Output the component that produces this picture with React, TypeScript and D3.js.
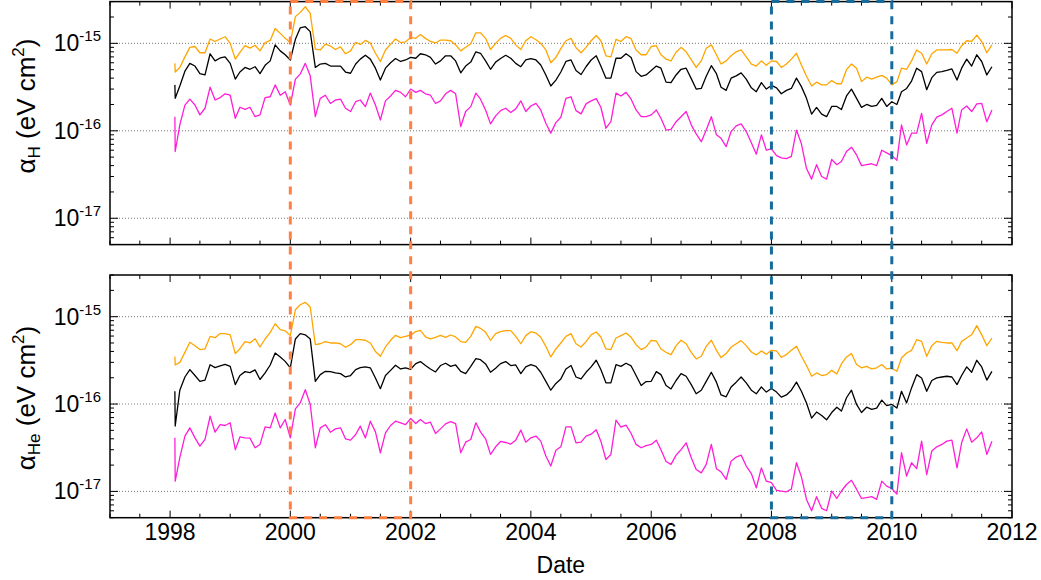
import React, { useRef, useEffect } from "react";
import * as d3 from "d3";

// sample dates (first point is the start-up spike, then roughly monthly)
const dates = [
  "1998-01-30",
  "1998-02", "1998-03", "1998-04", "1998-05", "1998-06", "1998-07", "1998-08", "1998-09", "1998-10", "1998-11", "1998-12",
  "1999-01", "1999-02", "1999-03", "1999-04", "1999-05", "1999-06", "1999-07", "1999-08", "1999-09", "1999-10", "1999-11", "1999-12",
  "2000-01", "2000-02", "2000-03", "2000-04", "2000-05", "2000-06", "2000-07", "2000-08", "2000-09", "2000-10", "2000-11", "2000-12",
  "2001-01", "2001-02", "2001-03", "2001-04", "2001-05", "2001-06", "2001-07", "2001-08", "2001-09", "2001-10", "2001-11", "2001-12",
  "2002-01", "2002-02", "2002-03", "2002-04", "2002-05", "2002-06", "2002-07", "2002-08", "2002-09", "2002-10", "2002-11", "2002-12",
  "2003-01", "2003-02", "2003-03", "2003-04", "2003-05", "2003-06", "2003-07", "2003-08", "2003-09", "2003-10", "2003-11", "2003-12",
  "2004-01", "2004-02", "2004-03", "2004-04", "2004-05", "2004-06", "2004-07", "2004-08", "2004-09", "2004-10", "2004-11", "2004-12",
  "2005-01", "2005-02", "2005-03", "2005-04", "2005-05", "2005-06", "2005-07", "2005-08", "2005-09", "2005-10", "2005-11", "2005-12",
  "2006-01", "2006-02", "2006-03", "2006-04", "2006-05", "2006-06", "2006-07", "2006-08", "2006-09", "2006-10", "2006-11", "2006-12",
  "2007-01", "2007-02", "2007-03", "2007-04", "2007-05", "2007-06", "2007-07", "2007-08", "2007-09", "2007-10", "2007-11", "2007-12",
  "2008-01", "2008-02", "2008-03", "2008-04", "2008-05", "2008-06", "2008-07", "2008-08", "2008-09", "2008-10", "2008-11", "2008-12",
  "2009-01", "2009-02", "2009-03", "2009-04", "2009-05", "2009-06", "2009-07", "2009-08", "2009-09", "2009-10", "2009-11", "2009-12",
  "2010-01", "2010-02", "2010-03", "2010-04", "2010-05", "2010-06", "2010-07", "2010-08", "2010-09", "2010-10", "2010-11", "2010-12",
  "2011-01", "2011-02", "2011-03", "2011-04", "2011-05", "2011-06", "2011-07", "2011-08", "2011-09",
];

// all values in units of 1e-16 eV cm^2
const hOrange = [
  5.9, 4.7,
  5.3, 7.0, 9.0, 9.2, 7.8, 7.8, 11.2, 10.5, 11.2, 11.9,
  10.0, 6.6, 7.9, 9.4, 8.8, 9.5, 8.2, 10.2, 10.8, 14.8,
  13.0, 11.4, 10.2, 20.2, 22.6, 26.2, 22.0, 8.6, 8.4, 9.8,
  9.3, 8.5, 9.1, 7.6, 8.2, 10.3, 9.7, 10.8, 10.1, 7.7,
  6.2, 8.4, 9.8, 11.2, 10.2, 10.4, 11.7, 11.4, 12.6, 11.4,
  10.5, 10.1, 10.9, 10.9, 10.7, 9.6, 8.2, 9.0, 9.9, 13.2,
  13.2, 11.4, 8.5, 10.0, 11.4, 12.3, 11.4, 9.6, 8.5, 10.7,
  11.9, 11.0, 10.0, 8.4, 6.0, 6.9, 8.7, 10.7, 11.4, 8.9,
  7.8, 9.0, 10.7, 12.3, 10.7, 7.2, 7.0, 11.1, 10.5, 11.9,
  11.3, 8.4, 7.4, 7.4, 9.2, 9.4, 7.4, 6.6, 6.3, 7.9,
  9.0, 8.0, 6.5, 5.3, 6.3, 8.8, 9.6, 7.4, 5.8, 6.3,
  7.2, 8.0, 8.4, 7.0, 5.8, 5.5, 6.3, 5.6, 6.3, 6.2,
  5.3, 5.8, 6.6, 7.7, 5.65, 4.2, 3.25, 3.6, 3.35, 3.35,
  3.75, 3.45, 3.45, 5.0, 5.8, 5.2, 3.65, 4.1, 3.9, 4.1,
  4.3, 4.0, 3.35, 3.65, 5.2, 5.05, 6.3, 8.4, 7.7, 5.8,
  7.6, 8.4, 8.4, 8.4, 8.5, 7.7, 9.4, 10.7, 10.5, 12.4,
  10.5, 7.8, 9.6,
];

const hBlack = [
  3.35, 2.35,
  3.25, 4.8, 5.9, 5.5, 4.5, 4.35, 7.6, 6.3, 6.8, 7.0,
  5.9, 3.9, 4.7, 5.3, 5.05, 5.4, 4.5, 5.6, 6.3, 9.6,
  8.2, 7.4, 6.45, 11.1, 15.0, 15.5, 13.6, 5.3, 5.8, 5.9,
  5.5, 5.5, 5.5, 4.7, 4.55, 5.8, 6.6, 7.3, 6.6, 5.2,
  3.8, 5.2, 6.0, 6.7, 6.2, 6.45, 6.9, 6.75, 7.6, 7.4,
  6.9, 5.8, 6.3, 7.2, 7.2, 6.3, 4.6, 5.5, 6.1, 8.0,
  7.7, 6.3, 5.05, 6.1, 6.7, 7.3, 6.75, 5.9, 5.4, 6.45,
  6.7, 6.45, 5.65, 4.35, 3.25, 3.8, 4.7, 6.2, 6.45, 4.9,
  4.4, 5.4, 6.45, 7.2, 5.5, 4.0, 4.0, 6.75, 6.75, 7.6,
  6.9, 4.75, 4.2, 4.35, 4.9, 5.5, 5.2, 3.6, 3.55, 4.35,
  5.05, 5.2, 3.95, 3.0, 3.05, 4.2, 5.55, 4.5, 3.15, 2.9,
  4.0, 4.25, 4.6, 3.9, 3.1, 2.8, 3.55, 3.0, 3.3, 3.1,
  2.65, 2.9, 3.05, 4.0, 3.2, 2.35, 1.55, 1.85, 1.55, 1.45,
  1.9, 1.9, 1.75, 2.5, 3.0, 2.35, 1.85, 2.0, 1.9, 1.95,
  2.35, 1.9, 2.15, 2.0, 2.8, 3.05, 3.7, 5.2, 4.75, 2.95,
  4.05, 4.65, 4.75, 4.9, 5.1, 3.8, 5.2, 6.6, 5.5, 7.4,
  6.2, 4.35, 5.4,
];

const hMagenta = [
  1.45, 0.58,
  1.17, 1.97, 2.3, 1.97, 1.52, 1.81, 3.15, 2.25, 2.4, 2.65,
  2.55, 1.39, 1.86, 1.76, 1.86, 1.45, 1.52, 2.4, 2.45, 3.35,
  2.55, 2.8, 1.97, 3.9, 4.45, 5.9, 4.25, 1.45, 2.35, 2.55,
  2.05, 2.25, 2.3, 1.81, 1.66, 2.15, 2.25, 1.89, 2.7, 1.97,
  1.33, 2.2, 2.5, 2.9, 2.75, 2.45, 3.0, 2.75, 2.9, 2.65,
  2.55, 2.05, 2.2, 2.65, 2.9, 2.65, 1.12, 1.66, 1.89, 2.7,
  2.3, 1.73, 1.2, 1.48, 1.7, 1.81, 1.62, 1.78, 2.2, 1.66,
  1.92, 2.06, 1.73, 1.22, 0.94, 1.24, 1.43, 2.35, 2.45, 1.7,
  1.56, 2.03, 2.2, 2.33, 1.86, 1.07, 1.27, 2.7, 2.5, 2.75,
  2.3, 1.73, 1.45, 1.45, 1.52, 1.73, 1.39, 1.02, 1.04, 1.27,
  1.45, 1.66, 1.17, 0.92, 0.75, 1.02, 1.45, 0.9, 0.82, 0.66,
  0.98, 1.14, 1.2, 0.98, 0.73, 0.54, 0.9, 0.6, 0.62, 0.52,
  0.49, 0.48, 0.51, 1.02, 0.71, 0.37, 0.28, 0.41, 0.3, 0.28,
  0.47, 0.41, 0.445, 0.58, 0.65, 0.53, 0.4, 0.41, 0.42, 0.4,
  0.6, 0.56, 0.52, 0.46, 1.17, 0.69, 0.94, 0.94, 1.58, 0.72,
  1.17, 1.43, 1.52, 1.66, 1.81, 0.94, 1.73, 1.92, 1.66, 2.03,
  2.06, 1.27, 1.73,
];

const heOrange = [
  3.5, 2.8,
  3.0, 3.9, 5.1, 4.65, 4.2, 4.27, 5.95, 5.75, 6.4, 6.4,
  6.2, 3.78, 4.3, 5.18, 5.0, 5.6, 4.5, 5.55, 6.6, 8.3,
  7.1, 6.9, 6.07, 12.0, 13.7, 14.6, 12.9, 4.78, 4.9, 5.18,
  5.0, 5.0, 4.9, 4.47, 4.78, 5.45, 5.45, 5.37, 5.0, 4.0,
  3.52, 4.5, 5.37, 6.12, 5.75, 5.95, 6.17, 6.74, 6.98, 5.86,
  5.56, 5.81, 6.12, 5.81, 6.17, 5.86, 5.18, 5.09, 5.95, 7.75,
  7.36, 6.62, 5.37, 6.4, 6.74, 6.92, 6.92, 5.95, 4.9, 6.07,
  6.74, 6.5, 5.81, 4.58, 3.46, 4.27, 5.0, 5.95, 6.4, 4.9,
  4.5, 5.18, 6.2, 6.68, 5.86, 4.27, 4.2, 5.7, 6.07, 6.5,
  5.81, 4.78, 4.2, 4.5, 5.37, 5.27, 4.27, 3.91, 3.68, 4.66,
  5.37, 4.9, 3.91, 3.28, 3.52, 4.58, 5.37, 4.12, 3.4, 3.78,
  4.47, 4.9, 5.32, 4.66, 3.94, 3.65, 4.05, 3.71, 4.12, 4.05,
  3.43, 3.68, 4.12, 4.58, 3.52, 2.76, 2.08, 2.27, 2.12, 2.17,
  2.43, 2.21, 2.88, 3.46, 3.78, 2.83, 2.6, 2.7, 2.52, 2.6,
  2.83, 2.52, 2.57, 2.37, 3.37, 3.84, 4.12, 5.45, 5.22, 3.52,
  4.66, 5.22, 5.09, 5.0, 5.0, 4.08, 5.22, 5.7, 6.2, 7.89,
  6.2, 4.66, 5.7,
];

const heBlack = [
  1.4, 0.56,
  1.44, 2.04, 2.48, 2.12, 1.82, 1.88, 2.82, 2.61, 2.73, 2.85,
  2.7, 1.67, 2.12, 2.35, 2.29, 2.46, 1.91, 2.27, 2.8, 3.84,
  3.46, 3.08, 2.6, 5.56, 6.4, 6.2, 5.56, 1.82, 2.17, 2.37,
  2.35, 2.27, 2.23, 2.04, 2.12, 2.48, 2.61, 2.66, 2.6, 1.99,
  1.5, 2.12, 2.43, 2.78, 2.52, 2.6, 2.5, 2.9, 3.06, 2.76,
  2.52, 2.33, 2.76, 2.93, 2.7, 2.8, 2.37, 2.23, 2.7, 3.31,
  3.22, 2.88, 2.31, 2.57, 2.9, 3.06, 2.76, 2.8, 2.23, 2.66,
  2.82, 2.7, 2.31, 1.82, 1.44, 1.72, 1.94, 2.52, 2.76, 2.04,
  1.94, 2.31, 2.66, 3.17, 2.48, 1.75, 1.75, 2.82, 2.7, 2.93,
  2.73, 2.12, 1.63, 1.81, 1.82, 2.35, 2.17, 1.63, 1.49, 1.86,
  2.23, 2.08, 1.67, 1.31, 1.44, 1.82, 2.31, 1.78, 1.27, 1.21,
  1.57, 1.78, 2.04, 1.75, 1.44, 1.31, 1.57, 1.37, 1.51, 1.37,
  1.2, 1.27, 1.44, 1.78, 1.4, 1.03, 0.69, 0.81, 0.74, 0.66,
  0.8, 0.92, 0.83, 1.18, 1.44, 0.99, 0.8, 0.92, 0.87, 0.9,
  1.11, 0.96, 0.99, 0.9, 1.4, 1.03, 1.53, 2.17, 1.99, 1.4,
  1.86, 1.99, 2.04, 2.08, 2.04, 1.67, 2.12, 2.66, 2.31, 3.17,
  2.66, 1.88, 2.37,
];

const heMagenta = [
  0.41, 0.131,
  0.243, 0.43, 0.534, 0.41, 0.33, 0.393, 0.725, 0.476, 0.58, 0.568,
  0.61, 0.3, 0.42, 0.41, 0.407, 0.316, 0.345, 0.548, 0.534, 0.79,
  0.534, 0.665, 0.41, 0.88, 1.03, 1.46, 0.99, 0.316, 0.534, 0.58,
  0.476, 0.52, 0.534, 0.4, 0.386, 0.448, 0.558, 0.41, 0.636, 0.48,
  0.277, 0.468, 0.568, 0.636, 0.61, 0.58, 0.683, 0.598, 0.665, 0.598,
  0.62, 0.46, 0.52, 0.593, 0.63, 0.598, 0.277, 0.366, 0.393, 0.61,
  0.48, 0.4, 0.265, 0.324, 0.373, 0.363, 0.348, 0.386, 0.503, 0.366,
  0.41, 0.43, 0.376, 0.254, 0.195, 0.296, 0.324, 0.548, 0.548, 0.36,
  0.366, 0.43, 0.452, 0.507, 0.376, 0.232, 0.265, 0.654, 0.543, 0.573,
  0.46, 0.345, 0.316, 0.335, 0.345, 0.386, 0.3, 0.22, 0.204, 0.26,
  0.3, 0.36, 0.243, 0.178, 0.163, 0.204, 0.345, 0.182, 0.167, 0.137,
  0.222, 0.247, 0.26, 0.195, 0.16, 0.11, 0.186, 0.131, 0.126, 0.103,
  0.101, 0.099, 0.106, 0.213, 0.147, 0.081, 0.06, 0.087, 0.064, 0.06,
  0.101, 0.083, 0.101, 0.12, 0.134, 0.106, 0.083, 0.085, 0.087, 0.081,
  0.131, 0.115, 0.108, 0.093, 0.277, 0.15, 0.213, 0.182, 0.376, 0.156,
  0.29, 0.324, 0.345, 0.376, 0.386, 0.186, 0.36, 0.52, 0.366, 0.41,
  0.48, 0.265, 0.376,
];

const UNIT = 1e-16;

const yearLabels = [1998, 2000, 2002, 2004, 2006, 2008, 2010, 2012];
const decades = [1e-17, 1e-16, 1e-15];
const decadeLabels = ["-17", "-16", "-15"];

// the two highlighted intervals
const boxes = [
  { from: "2000-01-01", to: "2002-01-01", color: "#ff8040" },
  { from: "2008-01-01", to: "2010-01-01", color: "#176c9c" },
];

const lineColors = ["#ffa500", "#000000", "#ff1ed8"];

const W = 1041;
const H = 580;
const left = 110;
const right = 1012;
const font = "'Liberation Sans', Arial, Helvetica, sans-serif";

const panels = [
  { top: 1.6, bottom: 244.6, sub: "H", titleY: 106, series: [hOrange, hBlack, hMagenta] },
  { top: 275, bottom: 517.7, sub: "He", titleY: 398, series: [heOrange, heBlack, heMagenta] },
];

const App = () => {
  const svgRef = useRef(null);

  useEffect(() => {
    const svg = d3.select(svgRef.current);
    svg.selectAll("*").remove();

    const x = d3
      .scaleUtc()
      .domain([new Date("1997-01-01"), new Date("2012-01-01")])
      .range([left, right]);
    const when = dates.map((d) => new Date(d));

    const xTicks = x.ticks(d3.utcMonth.every(6));
    const isMajorX = (d) => d.getUTCMonth() === 0 && d.getUTCFullYear() % 2 === 0;

    // minor decade ticks 2..9 inside the domain
    const minorY = [];
    for (let e = -18; e <= -15; e++) {
      for (let m = 2; m <= 9; m++) {
        const v = m * Math.pow(10, e);
        if (v >= 5e-18 && v <= 3.001e-15) minorY.push(v);
      }
    }

    panels.forEach((p, pi) => {
      const y = d3.scaleLog().domain([5e-18, 3e-15]).range([p.bottom, p.top]);
      const g = svg.append("g");

      const clipId = `clip-${pi}`;
      g.append("clipPath")
        .attr("id", clipId)
        .append("rect")
        .attr("x", left)
        .attr("y", p.top)
        .attr("width", right - left)
        .attr("height", p.bottom - p.top);

      // dotted decade grid
      g.selectAll(".grid")
        .data(decades)
        .join("line")
        .attr("class", "grid")
        .attr("x1", left)
        .attr("x2", right)
        .attr("y1", (d) => y(d))
        .attr("y2", (d) => y(d))
        .attr("stroke", "#777")
        .attr("stroke-width", 1)
        .attr("stroke-dasharray", "1,2");

      // the three series
      const line = d3
        .line()
        .x((_, i) => x(when[i]))
        .y((v) => y(v * UNIT));
      p.series.forEach((s, si) => {
        g.append("path")
          .attr("clip-path", `url(#${clipId})`)
          .attr("d", line(s))
          .attr("fill", "none")
          .attr("stroke", lineColors[si])
          .attr("stroke-width", 1.3)
          .attr("stroke-linejoin", "round");
      });

      // frame
      g.append("rect")
        .attr("x", left)
        .attr("y", p.top)
        .attr("width", right - left)
        .attr("height", p.bottom - p.top)
        .attr("fill", "none")
        .attr("stroke", "#000")
        .attr("stroke-width", 1.5);

      // x ticks, inward on bottom and top
      const xLen = (d) => (isMajorX(d) ? 7 : 4);
      g.selectAll(".xtb")
        .data(xTicks)
        .join("line")
        .attr("class", "xtb")
        .attr("x1", (d) => x(d))
        .attr("x2", (d) => x(d))
        .attr("y1", p.bottom)
        .attr("y2", (d) => p.bottom - xLen(d))
        .attr("stroke", "#000");
      g.selectAll(".xtt")
        .data(xTicks)
        .join("line")
        .attr("class", "xtt")
        .attr("x1", (d) => x(d))
        .attr("x2", (d) => x(d))
        .attr("y1", p.top)
        .attr("y2", (d) => p.top + xLen(d))
        .attr("stroke", "#000");

      // y ticks, inward on left and right
      const yt = decades.map((v) => ({ v, len: 8 })).concat(minorY.map((v) => ({ v, len: 4 })));
      g.selectAll(".ytl")
        .data(yt)
        .join("line")
        .attr("class", "ytl")
        .attr("x1", left)
        .attr("x2", (d) => left + d.len)
        .attr("y1", (d) => y(d.v))
        .attr("y2", (d) => y(d.v))
        .attr("stroke", "#000");
      g.selectAll(".ytr")
        .data(yt)
        .join("line")
        .attr("class", "ytr")
        .attr("x1", right)
        .attr("x2", (d) => right - d.len)
        .attr("y1", (d) => y(d.v))
        .attr("y2", (d) => y(d.v))
        .attr("stroke", "#000");

      // decade labels 10^n
      const lab = g
        .selectAll(".ylab")
        .data(decades)
        .join("text")
        .attr("class", "ylab")
        .attr("x", 101)
        .attr("y", (d) => y(d) + 8)
        .attr("text-anchor", "end")
        .attr("font-family", font)
        .attr("font-size", 23)
        .attr("fill", "#000");
      lab.append("tspan").text("10");
      lab.append("tspan")
        .attr("dy", -10)
        .attr("font-size", 15)
        .text((_, i) => decadeLabels[i]);

      // y title
      const t = g
        .append("text")
        .attr("transform", `translate(35,${p.titleY}) rotate(-90)`)
        .attr("text-anchor", "middle")
        .attr("font-family", font)
        .attr("font-size", 26)
        .attr("fill", "#000");
      t.append("tspan").text("α");
      t.append("tspan").attr("font-size", 17).attr("dy", 5).text(p.sub);
      t.append("tspan").attr("dy", -5).text(" (eV cm");
      t.append("tspan").attr("font-size", 17).attr("dy", -11).text("2");
      t.append("tspan").attr("dy", 11).text(")");

      if (pi === panels.length - 1) {
        g.selectAll(".xlab")
          .data(yearLabels)
          .join("text")
          .attr("class", "xlab")
          .attr("x", (d) => x(new Date(`${d}-01-01`)))
          .attr("y", p.bottom + 22.5)
          .attr("text-anchor", "middle")
          .attr("font-family", font)
          .attr("font-size", 23)
          .attr("fill", "#000")
          .text((d) => d);
      }
    });

    // x title
    svg.append("text")
      .attr("x", x(new Date("2004-07-01")))
      .attr("y", 573)
      .attr("text-anchor", "middle")
      .attr("font-family", font)
      .attr("font-size", 23)
      .attr("fill", "#000")
      .text("Date");

    // dashed interval boxes spanning both panels
    const top = panels[0].top;
    const bottom = panels[panels.length - 1].bottom;
    svg.selectAll(".box")
      .data(boxes)
      .join("rect")
      .attr("class", "box")
      .attr("x", (d) => x(new Date(d.from)))
      .attr("y", top)
      .attr("width", (d) => x(new Date(d.to)) - x(new Date(d.from)))
      .attr("height", bottom - top)
      .attr("fill", "none")
      .attr("stroke", (d) => d.color)
      .attr("stroke-width", 3)
      .attr("stroke-dasharray", "8,7");
  }, []);

  return (
    <div style={{ position: "absolute", left: 0, top: 0 }}>
      <svg ref={svgRef} width={W} height={H} style={{ display: "block", background: "#fff" }} />
    </div>
  );
};

export default App;
